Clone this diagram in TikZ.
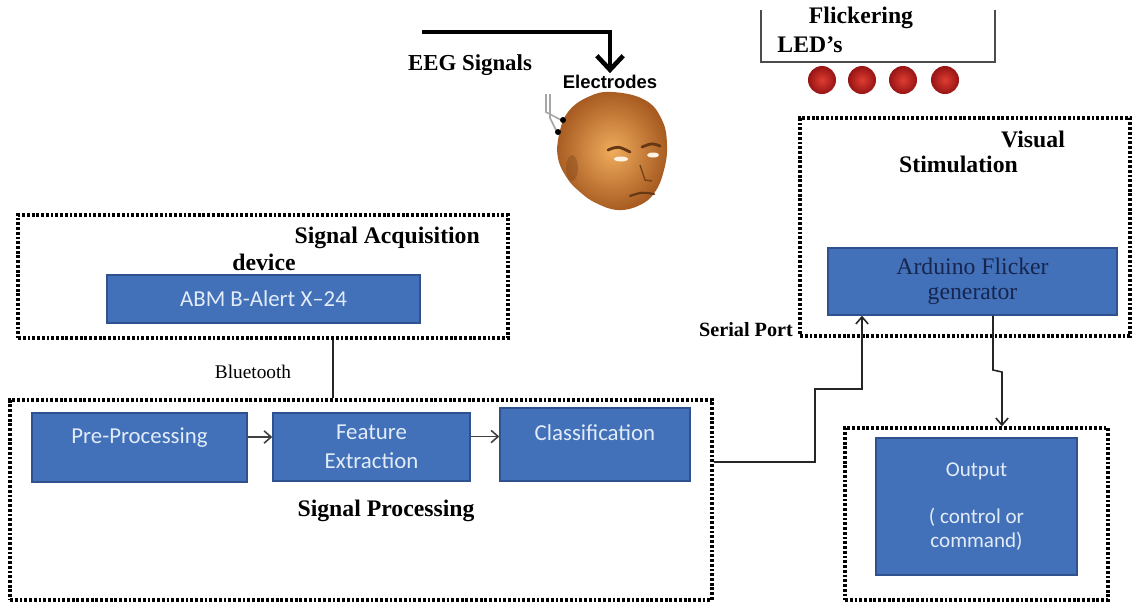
\documentclass[tikz,border=0pt]{standalone}
\usepackage{fontspec}
\setmainfont{Liberation Serif}
\setsansfont{Liberation Sans}
\newfontfamily\calibri{Carlito}
\usepackage{tikz}
\usetikzlibrary{arrows.meta,positioning,calc}
\definecolor{blockblue}{RGB}{66,112,185}
\definecolor{blockedge}{RGB}{47,82,143}
\definecolor{blocktext}{RGB}{225,236,248}
\definecolor{navytext}{RGB}{22,38,78}
\definecolor{ledred}{RGB}{222,60,50}
\definecolor{leddark}{RGB}{150,20,20}
\definecolor{skinlight}{RGB}{240,172,92}
\definecolor{skindark}{RGB}{168,92,34}

\begin{document}
\begin{tikzpicture}[x=0.02cm,y=-0.02cm,>={Straight Barb[length=4pt,width=7pt]},
  block/.style={draw=blockedge,line width=0.8pt,fill=blockblue,text=blocktext,
    font=\calibri\fontsize{13}{16.5}\selectfont,align=center,inner sep=0pt},
  dotbox/.style={draw=black,line width=2pt,dash pattern=on 1.6pt off 1.1pt,inner sep=0pt},
  title/.style={font=\bfseries\fontsize{13.5}{15}\selectfont},
  link/.style={draw=black!85,line width=0.9pt}]
  \useasboundingbox (0,0) rectangle (1136,603);

  % dotted group frames
  \node[dotbox,minimum width=9.8cm,minimum height=2.46cm] (acq) at (263,276.5) {};
  \node[dotbox,minimum width=14.04cm,minimum height=4cm] (proc) at (361,500) {};
  \node[dotbox,minimum width=6.6cm,minimum height=4.36cm] (vis) at (965,227) {};
  \node[dotbox,minimum width=5.26cm,minimum height=3.44cm] (outf) at (976.5,514) {};

  % blue blocks
  \node[block,minimum width=6.26cm,minimum height=0.96cm] (abm) at (263.5,299) {ABM B-Alert X–24};
  \node[block,minimum width=4.3cm,minimum height=1.38cm,text depth=14pt] (pre) at (139.5,447.5) {Pre-Processing};
  \node[block,minimum width=3.94cm,minimum height=1.36cm] (feat) at (371.5,447) {Feature\\Extraction};
  \node[block,minimum width=3.8cm,minimum height=1.46cm,text depth=14pt] (cls) at (595,444.5) {Classification};
  \node[block,text=navytext,font=\fontsize{13.5}{14}\selectfont,minimum width=5.78cm,minimum height=1.34cm] (ard) at (972.5,281.5) {Arduino Flicker\\generator};
  \node[block,font=\calibri\fontsize{12}{13.5}\selectfont,minimum width=4.02cm,minimum height=2.74cm] (out) at (976.5,506.5) {Output\\[13pt]( control or\\command)};

  % captions
  \node[title,anchor=east] (acqlbl) at (486,238) {Signal Acquisition};
  \node[title] (devlbl) at (264,262) {device};
  \node[title] (proclbl) at (386,511) {Signal Processing};
  \node[title] (vislbl) at (1033,139) {Visual};
  \node[title,anchor=east] (stimlbl) at (1024,164) {Stimulation};
  \node[font=\bfseries\fontsize{11.5}{13}\selectfont] (serial) at (746,330) {Serial Port};
  \node[font=\fontsize{11}{13}\selectfont] (bt) at (253,372) {Bluetooth};
  \node[title,font=\bfseries\fontsize{13}{15}\selectfont] (eeg) at (470,65) {EEG Signals};
  \node[font=\sffamily\bfseries\fontsize{10.5}{12}\selectfont,inner sep=1pt] (elec) at (610,82) {Electrodes};
  \node[title] (flk) at (861,18) {Flickering};
  \node[title] (led) at (810,45) {LED’s};

  % LED panel
  \draw[black!70,line width=0.8pt] (761,10) |- (995,62) -- (995,10);
  \foreach \x in {822,862,903,945}
    \shade[inner color=ledred,outer color=leddark] (\x,80) circle (0.28cm);

  % head with electrodes
  \shade[inner color=skinlight,outer color=skindark]
    plot[smooth cycle,tension=0.7] coordinates {(612,92) (645,100) (662,120) (667,145) (664,170)
      (655,192) (640,205) (618,210) (596,203) (580,192) (567,178) (558,158) (559,135) (568,112) (588,97)};
  \fill[skindark!80!black,opacity=0.45] (572,168) ellipse (0.12cm and 0.26cm);
  \draw[skindark!60!black,line width=1.6pt,line cap=round] (608,150) .. controls (618,146) .. (630,152);
  \draw[skindark!60!black,line width=1.6pt,line cap=round] (642,147) .. controls (652,143) .. (660,146);
  \fill[white!90!orange] (621,159) ellipse (0.14cm and 0.05cm);
  \fill[white!90!orange] (653,155) ellipse (0.12cm and 0.05cm);
  \draw[skindark!70!black,line width=0.8pt] (640,165) -- (645,180) -- (652,181);
  \draw[skindark!60!black,line width=1.2pt,line cap=round] (630,196) .. controls (642,192) .. (654,194);
  \draw[black!35,line width=0.9pt] (546,94) -- (546,112) -- (561,120);
  \draw[black!35,line width=0.9pt] (550,94) -- (550,118) -- (557,132);
  \fill[black] (563,120) circle (0.06cm) (558,132) circle (0.06cm);

  % connectors
  \coordinate (eegin) at (422,32);
  \draw[line width=2.6pt,-{Straight Barb[length=8pt,width=15pt]}] (eegin) -| (elec.north);
  \coordinate (btx) at (333,0);
  \draw[link] (acq.south -| btx) -- (proc.north -| btx);
  \draw[link,->,black!75] ([yshift=0.21cm]pre.east) -- ([yshift=0.21cm]pre.east -| feat.west);
  \draw[link,->,black!75] ([yshift=0.21cm]feat.east) -- ([yshift=0.21cm]feat.east -| cls.west);
  \coordinate (sp1) at (815,389);
  \coordinate (sp2) at (862,389);
  \draw[link,->] ([yshift=0.76cm]proc.east) -| (sp1) -- (sp2) -- (sp2 |- ard.south);
  \coordinate (dn1) at (993,370);
  \coordinate (dn2) at (1002,372);
  \draw[link,->] (ard.south -| dn1) -- (dn1) -- (dn2) -- (dn2 |- outf.north);
\end{tikzpicture}
\end{document}
